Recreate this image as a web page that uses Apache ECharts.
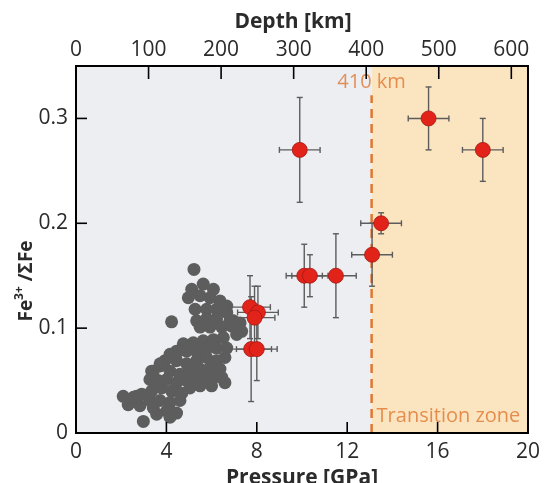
<!DOCTYPE html>
<html>
<head>
<meta charset="utf-8">
<script src="https://cdn.jsdelivr.net/npm/echarts@6/dist/echarts.min.js"></script>
<style>
  html, body { margin: 0; padding: 0; background: #ffffff; }
  #chart { width: 547px; height: 483px; }
</style>
</head>
<body>
<div id="chart"></div>
<script>
// Pressure axis (GPa) and depth axis (km)
const pressureTicks = [0, 4, 8, 12, 16, 20];
const depthTicks = [0, 100, 200, 300, 400, 500, 600];
const depthAxisMax = 623;          // depth reached at 20 GPa
const ratioTicks = [0, 0.1, 0.2, 0.3];
const ratioMax = 0.35;

// 410 km discontinuity, expressed in pressure
const discontinuityP = 13.08;
const discontinuityTopF = 0.322;

// Red samples: pressure, Fe3+/ΣFe and their uncertainties
const redP    = [9.9, 15.6, 18.0, 13.5, 13.1, 10.1, 10.35, 11.5, 7.7, 8.05, 7.9, 7.75, 8.0];
const redF    = [0.27, 0.30, 0.27, 0.20, 0.17, 0.15, 0.15, 0.15, 0.12, 0.115, 0.11, 0.08, 0.08];
const redPErr = [0.9, 0.9, 0.9, 0.9, 0.9, 0.8, 0.8, 0.9, 0.9, 0.9, 0.9, 0.9, 0.9];
const redFErr = [0.05, 0.03, 0.03, 0.01, 0.03, 0.03, 0.02, 0.04, 0.03, 0.025, 0.03, 0.05, 0.03];

// Grey samples: pressure and Fe3+/ΣFe
const greyP = [
  5.22, 4.23, 5.12, 5.63, 6.08, 4.97, 5.49, 5.93, 6.37, 6.67,
  5.27, 5.78, 6.22, 6.67, 5.34, 5.78, 6.22, 6.81, 5.49, 5.93,
  6.45, 6.89, 7.26, 7.33, 7.11, 4.75, 5.19, 5.63, 6.08, 6.52,
  4.45, 4.90, 5.34, 5.78, 6.22, 6.67, 3.94, 4.45, 4.90, 5.34,
  5.78, 6.22, 6.59, 3.35, 3.72, 4.16, 4.60, 5.04, 5.49, 5.93,
  6.37, 3.27, 3.64, 4.01, 4.45, 4.90, 5.34, 5.78, 6.22, 6.59,
  2.09, 2.54, 2.91, 3.35, 3.79, 4.23, 4.68, 5.04, 5.49, 6.00,
  2.31, 2.83, 3.27, 3.72, 4.16, 4.60, 3.42, 4.01, 4.45, 3.57,
  4.16, 2.98, 4.16, 6.45, 6.96, 2.68, 3.42, 3.72, 4.53
];
const greyF = [
  0.156, 0.106, 0.137, 0.142, 0.137, 0.129, 0.131, 0.129, 0.126, 0.121,
  0.118, 0.118, 0.118, 0.115, 0.107, 0.109, 0.109, 0.107, 0.101, 0.101,
  0.101, 0.102, 0.105, 0.097, 0.094, 0.085, 0.086, 0.088, 0.089, 0.091,
  0.078, 0.078, 0.078, 0.080, 0.081, 0.081, 0.069, 0.069, 0.066, 0.069,
  0.072, 0.069, 0.072, 0.059, 0.064, 0.059, 0.056, 0.059, 0.061, 0.062,
  0.061, 0.051, 0.050, 0.051, 0.048, 0.050, 0.051, 0.053, 0.054, 0.048,
  0.035, 0.034, 0.037, 0.040, 0.043, 0.040, 0.038, 0.043, 0.045, 0.045,
  0.027, 0.026, 0.031, 0.031, 0.029, 0.031, 0.024, 0.021, 0.019, 0.018,
  0.015, 0.011, 0.075, 0.053, 0.107, 0.035, 0.059, 0.066, 0.078
];

const FONT = '"Open Sans", "DejaVu Sans", sans-serif';
const INK = '#2b2b2b';
const FRAME = '#000000';
const ORANGE = '#e0772f';

const greyData = greyP.map((p, i) => [p, greyF[i]]);
const redData = redP.map((p, i) => [p, redF[i], redPErr[i], redFErr[i]]);

const chart = echarts.init(document.getElementById('chart'), null, { renderer: 'canvas' });

function errorBars(params, api) {
  const x = api.value(0), y = api.value(1);
  const dx = api.value(2), dy = api.value(3);
  const left = api.coord([x - dx, y]);
  const right = api.coord([x + dx, y]);
  const top = api.coord([x, y + dy]);
  const bottom = api.coord([x, y - dy]);
  const cap = 3;
  const style = { stroke: '#5c5c5c', lineWidth: 1.4 };
  return {
    type: 'group',
    children: [
      { type: 'line', shape: { x1: left[0], y1: left[1], x2: right[0], y2: right[1] }, style },
      { type: 'line', shape: { x1: left[0], y1: left[1] - cap, x2: left[0], y2: left[1] + cap }, style },
      { type: 'line', shape: { x1: right[0], y1: right[1] - cap, x2: right[0], y2: right[1] + cap }, style },
      { type: 'line', shape: { x1: top[0], y1: top[1], x2: bottom[0], y2: bottom[1] }, style },
      { type: 'line', shape: { x1: top[0] - cap, y1: top[1], x2: top[0] + cap, y2: top[1] }, style },
      { type: 'line', shape: { x1: bottom[0] - cap, y1: bottom[1], x2: bottom[0] + cap, y2: bottom[1] }, style }
    ]
  };
}

// Inward tick marks at axis tick values; value[2], value[3] give the tick direction
function tickMarks(length) {
  return function (params, api) {
    const p = api.coord([api.value(0), api.value(1)]);
    return {
      type: 'line',
      shape: { x1: p[0], y1: p[1], x2: p[0] + api.value(2) * length, y2: p[1] + api.value(3) * length },
      style: { stroke: FRAME, lineWidth: 1.6 }
    };
  };
}

// Plot frame spanning the full axis ranges
function plotFrame(params, api) {
  const a = api.coord([api.value(0), api.value(1)]);
  const b = api.coord([api.value(2), api.value(3)]);
  return {
    type: 'rect',
    shape: { x: a[0], y: b[1], width: b[0] - a[0], height: a[1] - b[1] },
    style: { fill: 'none', stroke: FRAME, lineWidth: 2 }
  };
}

const inner = arr => arr.filter((t, i) => i > 0 && i < arr.length - 1);
const pMin = pressureTicks[0], pMax = pressureTicks[pressureTicks.length - 1];
const edgeLine = () => ({ show: true, lineStyle: { color: FRAME, width: 2 } });

const option = {
  animation: false,
  textStyle: { fontFamily: FONT },
  grid: {
    left: 76, right: 19, top: 66, bottom: 50,
    containLabel: false, outerBoundsMode: 'none'
  },
  xAxis: [
    {
      type: 'value', position: 'bottom',
      min: pMin, max: pMax,
      interval: pressureTicks[1] - pressureTicks[0],
      name: 'Pressure [GPa]', nameLocation: 'middle', nameGap: 31,
      nameTextStyle: { fontFamily: FONT, fontSize: 21, fontWeight: 'bold', color: INK },
      axisLine: edgeLine(),
      axisTick: { show: false },
      axisLabel: { fontFamily: FONT, fontSize: 21, color: INK, margin: 9 },
      splitLine: { show: false }
    },
    {
      type: 'value', position: 'top',
      min: depthTicks[0], max: depthAxisMax,
      interval: depthTicks[1] - depthTicks[0],
      name: 'Depth [km]', nameLocation: 'middle', nameGap: 33,
      nameTextStyle: { fontFamily: FONT, fontSize: 21, fontWeight: 'bold', color: INK, padding: [0, 18, 0, 0] },
      axisLine: edgeLine(),
      axisTick: { show: false },
      axisLabel: { fontFamily: FONT, fontSize: 21, color: INK, margin: 5, showMaxLabel: false },
      splitLine: { show: false }
    }
  ],
  yAxis: {
    type: 'value',
    min: ratioTicks[0], max: ratioMax,
    interval: ratioTicks[1] - ratioTicks[0],
    axisLine: edgeLine(),
    axisTick: { show: false },
    axisLabel: {
      fontFamily: FONT, fontSize: 21, color: INK, margin: 8, showMaxLabel: false,
      formatter: v => String(+v.toFixed(2))
    },
    splitLine: { show: false }
  },
  graphic: [
    {
      type: 'text', x: 25, y: 281, rotation: Math.PI / 2,
      style: {
        text: '{b|Fe}{s|3+}{b| /ΣFe}',
        align: 'center', verticalAlign: 'middle',
        rich: {
          b: { fontFamily: FONT, fontSize: 19, fontWeight: 'bold', fill: INK, lineHeight: 22, verticalAlign: 'bottom' },
          s: { fontFamily: FONT, fontSize: 12, fontWeight: 'bold', fill: INK, lineHeight: 22, verticalAlign: 'top' }
        }
      },
      z: 10
    }
  ],
  series: [
    {
      // shaded mantle regions, painted on a layer beneath everything else
      type: 'line', data: [], silent: true, zlevel: -1,
      markArea: {
        silent: true,
        data: [
          [{ xAxis: pMin, itemStyle: { color: '#eceef2' } }, { xAxis: discontinuityP }],
          [{ xAxis: discontinuityP, itemStyle: { color: '#fbe5c1' } }, { xAxis: pMax }]
        ]
      }
    },
    {
      // 410 km discontinuity
      type: 'line', silent: true, symbol: 'none',
      data: [[discontinuityP, 0], [discontinuityP, discontinuityTopF]],
      lineStyle: { color: ORANGE, width: 2.5, type: [9, 6] },
      z: 1
    },
    {
      type: 'scatter', silent: true,
      data: greyData,
      symbol: 'circle', symbolSize: 13,
      itemStyle: { color: '#5d5d5d', opacity: 1 },
      z: 2
    },
    {
      type: 'custom', silent: true,
      renderItem: errorBars,
      data: redData,
      encode: { x: 0, y: 1 },
      z: 3
    },
    {
      type: 'scatter', silent: true,
      data: redData.map(d => [d[0], d[1]]),
      symbol: 'circle', symbolSize: 15,
      itemStyle: { color: '#e2231a', borderColor: '#a31812', borderWidth: 0.8, opacity: 1 },
      z: 4
    },
    {
      // region annotations
      type: 'scatter', silent: true, symbolSize: 0,
      data: [
        { value: [discontinuityP, 0.334], label: { formatter: '410 km', position: 'inside', align: 'center' } },
        { value: [discontinuityP, 0.016], label: { formatter: 'Transition zone', position: 'right', distance: 5, align: 'left' } }
      ],
      label: { show: true, fontFamily: FONT, fontSize: 20, color: ORANGE, verticalAlign: 'middle' },
      z: 5
    },
    {
      // frame around the plotting area (top layer)
      type: 'custom', silent: true, clip: false, zlevel: 1,
      renderItem: plotFrame,
      data: [[pMin, ratioTicks[0], pMax, ratioMax]],
      encode: { x: [0, 2], y: [1, 3] }
    },
    {
      // pressure ticks (bottom, pointing up)
      type: 'custom', silent: true, clip: false, zlevel: 1,
      renderItem: tickMarks(11),
      data: inner(pressureTicks).map(t => [t, ratioTicks[0], 0, -1]),
      encode: { x: 0, y: 1 }
    },
    {
      // ratio ticks (left, pointing right)
      type: 'custom', silent: true, clip: false, zlevel: 1,
      renderItem: tickMarks(11),
      data: ratioTicks.slice(1).map(t => [pMin, t, 1, 0]),
      encode: { x: 0, y: 1 }
    },
    {
      // depth ticks (top, pointing down)
      type: 'custom', silent: true, clip: false, zlevel: 1, xAxisIndex: 1,
      renderItem: tickMarks(13),
      data: depthTicks.slice(1).map(t => [t, ratioMax, 0, 1]),
      encode: { x: 0, y: 1 }
    }
  ]
};

chart.setOption(option);
</script>
</body>
</html>
